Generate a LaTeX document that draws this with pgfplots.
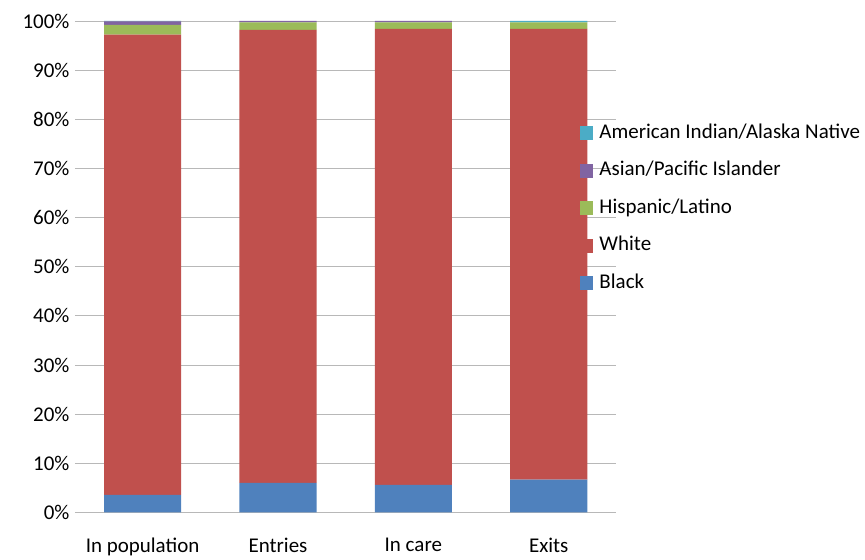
\documentclass[border=0pt]{standalone}
\usepackage{pgfplots}
\pgfplotsset{compat=1.18}
\usepackage{fontspec}
\setmainfont{Carlito}
\definecolor{cBlack}{HTML}{4F81BD}
\definecolor{cWhite}{HTML}{C0504D}
\definecolor{cHisp}{HTML}{9BBB59}
\definecolor{cAsian}{HTML}{8064A2}
\definecolor{cAI}{HTML}{4BACC6}
\begin{document}
\begin{tikzpicture}[font=\fontsize{21bp}{25bp}\selectfont]
\begin{axis}[
  scale only axis, width=542bp, height=492bp,
  ybar stacked, bar width=0.57,
  xmin=-0.5, xmax=3.5, ymin=0, ymax=100,
  xtick={0,1,2,3},
  xticklabels={In population,Entries,In care,Exits},
  ytick={0,10,...,100},
  yticklabel={\pgfmathprintnumber{\tick}\%},
  /pgf/number format/assume math mode=true,
  axis line style={draw=none},
  tick style={draw=none},
  ymajorgrids,
  major grid style={color=black!28, line width=0.8pt},
  xticklabel style={yshift=-22bp},
  yticklabel style={xshift=-2bp},
  reverse legend,
  legend cell align=left,
  legend style={draw=none, fill=none, at={(0.926,0.80)}, anchor=north west,
    row sep=13.5bp, nodes={inner sep=2bp, text height=15bp, text depth=5bp},
    /tikz/every odd column/.append style={column sep=4bp},
    font=\fontsize{21bp}{25bp}\selectfont},
  legend image code/.code={\fill[#1] (0bp,-7bp) rectangle (14bp,7bp);},
  every axis plot/.append style={draw=none},
]
\addplot[fill=cBlack] coordinates {(0,3.6) (1,6.0) (2,5.6) (3,6.7)};
\addplot[fill=cWhite] coordinates {(0,93.6) (1,92.2) (2,92.8) (3,91.7)};
\addplot[fill=cHisp] coordinates {(0,2.0) (1,1.5) (2,1.3) (3,1.3)};
\addplot[fill=cAsian] coordinates {(0,0.7) (1,0.3) (2,0.3) (3,0.0)};
\addplot[fill=cAI] coordinates {(0,0.1) (1,0.0) (2,0.0) (3,0.3)};
\legend{Black,White,Hispanic/Latino,Asian/Pacific Islander,American Indian/Alaska Native}
\end{axis}
\path (current axis.south west) +(-75bp,-45bp) (current axis.north east) +(248bp,21bp);
\end{tikzpicture}
\end{document}
